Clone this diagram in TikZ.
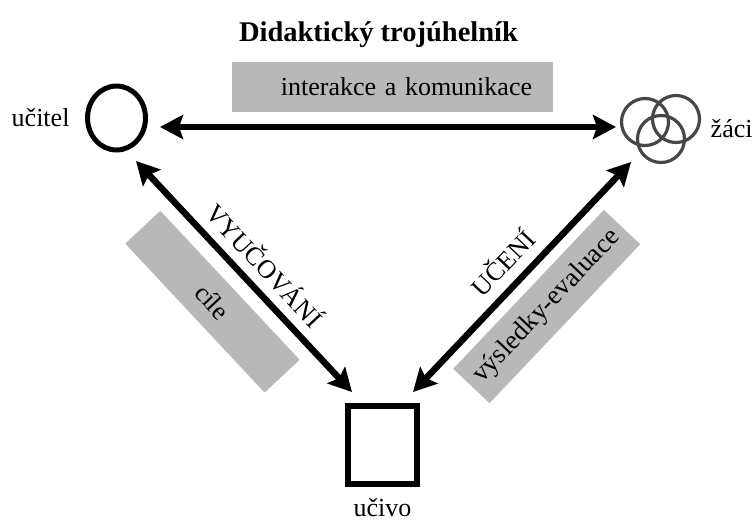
\documentclass[tikz,border=0pt]{standalone}
\usepackage{fontspec}
\setmainfont{Liberation Serif}
\usetikzlibrary{arrows.meta,positioning,shapes.geometric}

\begin{document}
\begin{tikzpicture}[
        x=1pt, y=-1pt,
        >={Stealth[length=23pt,width=24pt,inset=4pt]},
        every node/.style={font=\fontsize{26}{30}\selectfont},
        person/.style={draw, ellipse, line width=5pt, minimum width=58pt, minimum height=64pt},
        group/.style={circle, minimum size=80pt, inner sep=0pt},
        ring/.style={draw=black!72, line width=3.2pt},
        matter/.style={draw, rectangle, line width=6pt, minimum width=69pt, minimum height=78pt},
        link/.style={<->, line width=6.5pt},
        tag/.style={fill=black!28, inner sep=0pt, minimum height=48pt}
    ]
        \useasboundingbox (0,0) rectangle (752,520);

        % Title
        \node (title) at (378.5,35) {\fontsize{28.5}{32}\selectfont\bfseries Didaktický trojúhelník};

        % Corners of the triangle
        \node (ucitel) [person] at (116.5,118) {};
        \node (zaci) [group] at (660,129) {};
        \node (ucivo) [matter] at (382.5,445) {};

        % Pupils as three rings
        \draw[ring] ([shift={(-15,-7)}]zaci.center) circle (23.5pt);
        \draw[ring] ([shift={(16,-10)}]zaci.center) circle (23.5pt);
        \draw[ring] ([shift={(1,10)}]zaci.center) circle (23.5pt);

        % Names
        \node (ucitel_name) [left=12pt of ucitel] {učitel};
        \node (zaci_name) [right=7pt of zaci] {žáci};
        \node (ucivo_name) [below=9pt of ucivo, inner ysep=2pt] {učivo};

        % Relations
        \draw[link] ([shift={(43.5,9)}]ucitel.center) -- ([shift={(-44,-2)}]zaci.center)
            node[tag, pos=0.51, above=12pt, inner xsep=21pt, text width=279pt, align=right, minimum height=50pt] {interakce a komunikace};
        \draw[link] ([shift={(19.5,43)}]ucitel.center) -- ([shift={(-30.5,-53)}]ucivo.center)
            node[pos=0.52, sloped, above=6pt] {VYUČOVÁNÍ}
            node[tag, pos=0.49, sloped, below=13pt, minimum width=204pt] {cíle};
        \draw[link] ([shift={(30.5,-53)}]ucivo.center) -- ([shift={(-29,33)}]zaci.center)
            node[pos=0.49, sloped, above=7pt] {UČENÍ}
            node[tag, pos=0.486, sloped, below=10pt, minimum width=219pt, minimum height=50pt, font=\fontsize{27}{30}\selectfont] {výsledky-evaluace};
    \end{tikzpicture}
\end{document}
